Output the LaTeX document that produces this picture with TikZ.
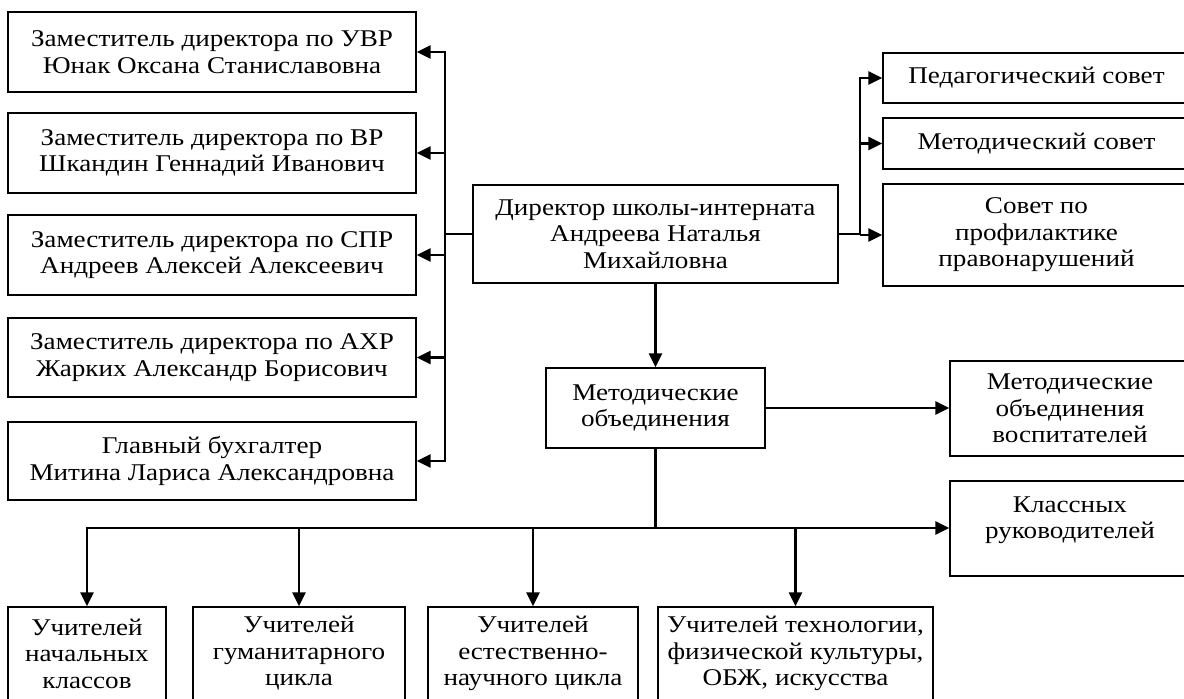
\documentclass[tikz,border=0pt]{standalone}
\usepackage{fontspec}
\setmainfont{Liberation Serif}[FakeStretch=1.13]
\usetikzlibrary{arrows.meta}
\begin{document}
\begin{tikzpicture}[x=1pt,y=-1pt,
  txt/.style={align=center, inner sep=0pt, font=\fontsize{24}{26.5}\selectfont},
  box/.style={txt, draw, line width=1.3pt},
  conn/.style={line width=2.5pt, line cap=rect},
  arr/.style={line width=2.5pt, -{Triangle[length=14pt,width=13pt]}}]
\useasboundingbox (0,0) rectangle (1184,699);
\clip (0,0) rectangle (1184,699);
% left column
\node[box, minimum width=408, minimum height=80] (l1) at (212,52) {Заместитель директора по УВР\\Юнак Оксана Станиславовна};
\node[box, minimum width=408, minimum height=80] (l2) at (212,153) {Заместитель директора по ВР\\Шкандин Геннадий Иванович};
\node[box, minimum width=408, minimum height=80] (l3) at (212,255) {Заместитель директора по СПР\\Андреев Алексей Алексеевич};
\node[box, minimum width=408, minimum height=79] (l4) at (212,357.5) {Заместитель директора по АХР\\Жарких Александр Борисович};
\node[box, minimum width=408, minimum height=78] (l5) at (212,461) {Главный бухгалтер\\Митина Лариса Александровна};
% director
\node[box, minimum width=365, minimum height=98] (dir) at (655.5,234) {Директор школы-интерната\\Андреева Наталья\\Михайловна};
% right column
\node[box, minimum width=307, minimum height=50] (r1) at (1036.5,78) {Педагогический совет};
\node[box, minimum width=307, minimum height=51] (r2) at (1036.5,143.5) {Методический совет};
\node[box, minimum width=307, minimum height=102] (r3) at (1036.5,235) {Совет по\\профилактике\\правонарушений};
% methodical
\node[box, minimum width=219, minimum height=80] (mo) at (655.5,408) {Методические\\объединения};
\node[box, minimum width=240, minimum height=95] (mov) at (1070,408.5) {Методические\\объединения\\воспитателей};
\node[box, minimum width=240, minimum height=95] (kl) at (1070,528.5) {};
\node[txt, anchor=north] (klt) at ([yshift=-16pt]kl.north) {Классных\\руководителей};
% bottom
\node[box, minimum width=158, minimum height=93] (u1) at (87,653.5) {Учителей\\начальных\\классов};
\node[box, minimum width=212, minimum height=93] (u2) at (299,653.5) {Учителей\\гуманитарного\\цикла};
\node[box, minimum width=210, minimum height=93] (u3) at (533,653.5) {Учителей\\естественно-\\научного цикла};
\node[box, minimum width=275, minimum height=93] (u4) at (795.5,653.5) {Учителей технологии,\\физической культуры,\\ОБЖ, искусства};
% helper coordinates
\coordinate (lbus) at (445,0);
\coordinate (rbus) at (860,0);
\coordinate (j) at (655.5,528);
% left bus
\draw[conn] (dir.west) -- (dir.west -| lbus);
\draw[conn] (l1.east -| lbus) -- (l5.east -| lbus);
\foreach \n in {l1,l2,l3,l4,l5}{\draw[arr] (\n.east -| lbus) -- (\n.east);}
% right bus
\draw[conn] (dir.east) -- (dir.east -| rbus);
\draw[conn] (r1.west -| rbus) -- (dir.east -| rbus);
\foreach \n in {r1,r2,r3}{\draw[arr] (\n.west -| rbus) -- (\n.west);}
% director to methodical
\draw[arr] (dir.south) -- (mo.north);
\draw[arr] (mo.east) -- (mo.east -| mov.west);
\draw[conn] (mo.south) -- (j);
\draw[conn] (u1.north |- j) -- (j);
\draw[arr] (j) -- (j -| kl.west);
\foreach \n in {u1,u2,u3,u4}{\draw[arr] (\n.north |- j) -- (\n.north);}
\end{tikzpicture}
\end{document}
